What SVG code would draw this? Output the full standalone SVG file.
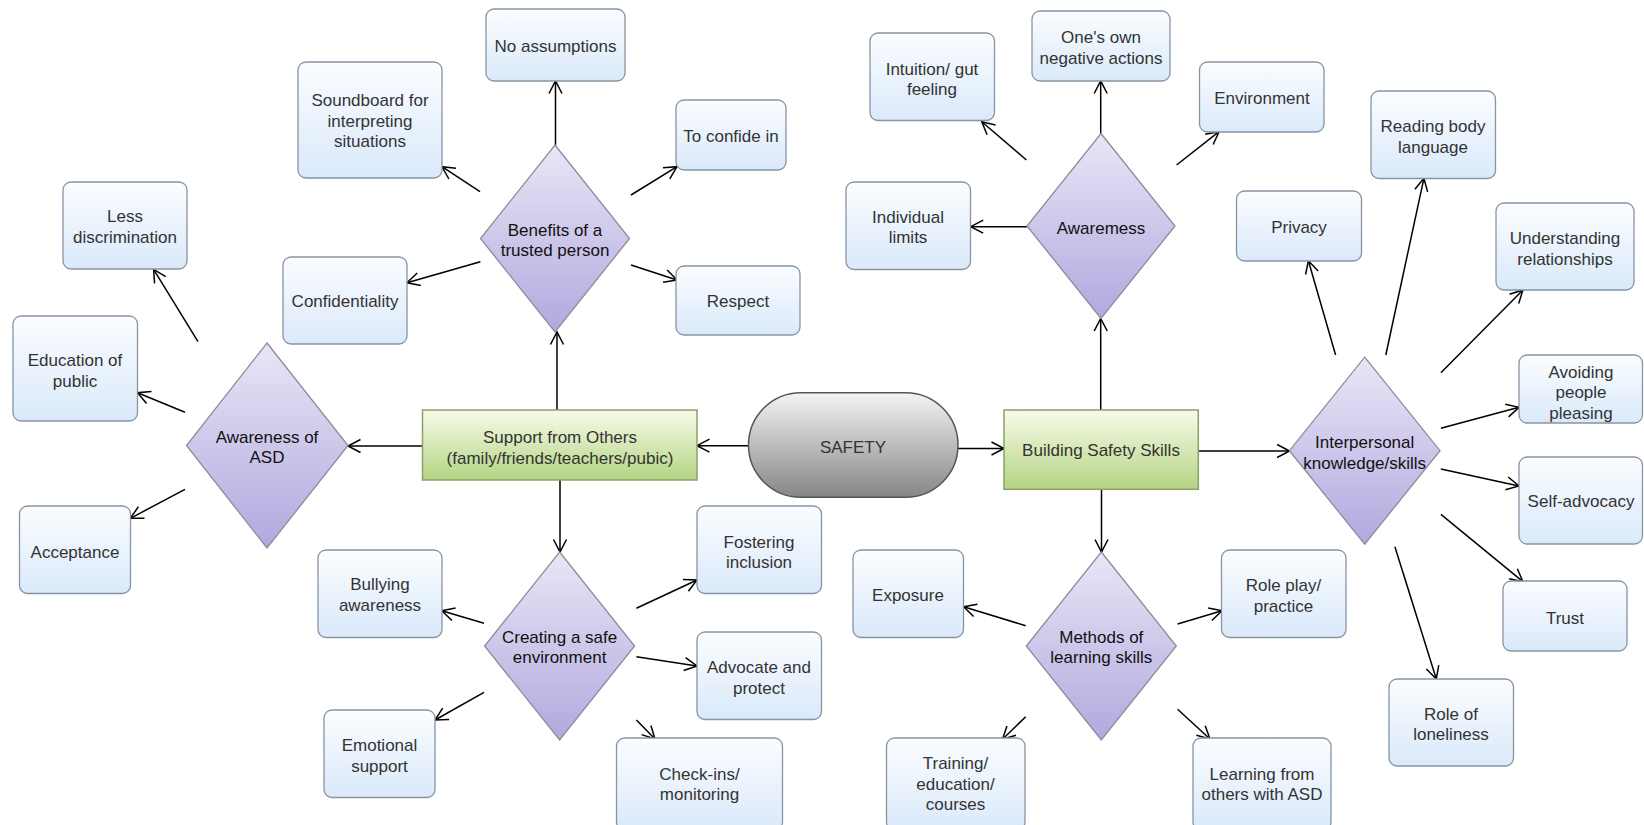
<svg xmlns="http://www.w3.org/2000/svg" width="1644" height="825" viewBox="0 0 1644 825">
<defs>
<linearGradient id="gBlue" x1="0" y1="0" x2="0" y2="1"><stop offset="0" stop-color="#fbfdff"/><stop offset="1" stop-color="#dae9fa"/></linearGradient>
<linearGradient id="gPurple" x1="0" y1="0" x2="0" y2="1"><stop offset="0" stop-color="#e9e6f6"/><stop offset="1" stop-color="#b2a8de"/></linearGradient>
<linearGradient id="gGreen" x1="0" y1="0" x2="0" y2="1"><stop offset="0" stop-color="#f8fbea"/><stop offset="1" stop-color="#b4d483"/></linearGradient>
<linearGradient id="gGray" x1="0" y1="0" x2="0" y2="1"><stop offset="0" stop-color="#f3f3f3"/><stop offset="1" stop-color="#868686"/></linearGradient>
<marker id="arr" markerUnits="userSpaceOnUse" markerWidth="16" markerHeight="16" viewBox="0 0 16 16" refX="14" refY="8" orient="auto">
<path d="M1.5,1.5 L14,8 L1.5,14.5" fill="none" stroke="#000" stroke-width="1.5"/>
</marker>
</defs>
<style>
.box{fill:url(#gBlue);stroke:#8795a3;stroke-width:1.3}
.dia{fill:url(#gPurple);stroke:#8e8b9c;stroke-width:1.3}
.grn{fill:url(#gGreen);stroke:#8ca06a;stroke-width:1.5}
.pill{fill:url(#gGray);stroke:#555;stroke-width:1.5}
text{font-family:"Liberation Sans",Arial,sans-serif;font-size:17px;text-anchor:middle}
.bt{fill:#333}
.dt{fill:#111}
.c line{stroke:#000;stroke-width:1.5;marker-end:url(#arr)}
</style>
<rect width="1644" height="825" fill="#fff"/>

<g id="connectors" class="c">
<line x1="748.5" y1="445.7" x2="697" y2="445.7"/>
<line x1="958" y1="448.5" x2="1004" y2="448.5"/>
<line x1="422.5" y1="446" x2="348" y2="446"/>
<line x1="557" y1="410" x2="557" y2="332"/>
<line x1="560" y1="480" x2="560" y2="552"/>
<line x1="555.5" y1="145" x2="555.5" y2="81"/>
<line x1="480" y1="191.7" x2="442" y2="166.7"/>
<line x1="480.4" y1="261.7" x2="407" y2="282.7"/>
<line x1="631" y1="195" x2="677" y2="166.7"/>
<line x1="631" y1="265" x2="677" y2="280"/>
<line x1="198" y1="341.7" x2="153.6" y2="269.3"/>
<line x1="185" y1="412.3" x2="137.5" y2="392.7"/>
<line x1="185" y1="489.3" x2="130.4" y2="518.3"/>
<line x1="484" y1="623.3" x2="441.8" y2="610.7"/>
<line x1="484" y1="692.3" x2="435" y2="720"/>
<line x1="636.4" y1="608.3" x2="697" y2="580"/>
<line x1="636.4" y1="656.7" x2="697" y2="666"/>
<line x1="636.4" y1="720" x2="655" y2="739"/>
<line x1="1100.7" y1="133.5" x2="1100.7" y2="81"/>
<line x1="1026.4" y1="160" x2="981.8" y2="121.7"/>
<line x1="1027" y1="226.7" x2="970.7" y2="226.7"/>
<line x1="1176.6" y1="165" x2="1219" y2="131.7"/>
<line x1="1100.7" y1="410" x2="1100.7" y2="318.5"/>
<line x1="1101.5" y1="489.3" x2="1101.5" y2="552"/>
<line x1="1198.3" y1="451" x2="1289.6" y2="451"/>
<line x1="1025.7" y1="625.7" x2="963.6" y2="606.7"/>
<line x1="1025.7" y1="716.7" x2="1002.5" y2="739.3"/>
<line x1="1177.6" y1="624" x2="1222" y2="610.7"/>
<line x1="1177.6" y1="709.3" x2="1210" y2="739"/>
<line x1="1335.6" y1="355" x2="1308.4" y2="260.7"/>
<line x1="1385.8" y1="355" x2="1423.9" y2="178.3"/>
<line x1="1440.9" y1="372.7" x2="1522.9" y2="290"/>
<line x1="1440.9" y1="428.3" x2="1519" y2="407.3"/>
<line x1="1440.9" y1="469" x2="1519" y2="486"/>
<line x1="1440.9" y1="514.3" x2="1522.9" y2="581.7"/>
<line x1="1394.9" y1="546.7" x2="1436.3" y2="679"/>
</g>

<g id="safety"><rect class="pill" x="748.5" y="392.7" width="209.5" height="104.6" rx="52.3"/><text class="bt" x="853" y="453">SAFETY</text></g>
<g id="support"><rect class="grn" x="422.5" y="410" width="274.5" height="70"/><text class="bt" x="560" y="443">Support from Others</text><text class="bt" x="560" y="463.5">(family/friends/teachers/pubic)</text></g>
<g id="building"><rect class="grn" x="1004" y="410" width="194.3" height="79.3"/><text class="bt" x="1101" y="456">Building Safety Skills</text></g>

<g id="asd"><polygon class="dia" points="267,343 348,445.5 267,548 186.5,445.5"/><text class="dt" x="267" y="442.5">Awareness of</text><text class="dt" x="267" y="463">ASD</text></g>
<g id="benefits"><polygon class="dia" points="555,145 629.5,238.5 555,332 480.5,238.5"/><text class="dt" x="555" y="235.5">Benefits of a</text><text class="dt" x="555" y="256">trusted person</text></g>
<g id="creating"><polygon class="dia" points="559.6,552 634.6,646 559.6,740 484.6,646"/><text class="dt" x="559.6" y="642.5">Creating a safe</text><text class="dt" x="559.6" y="663">environment</text></g>
<g id="awaremess"><polygon class="dia" points="1101,133.5 1175,226 1101,318.5 1027,226"/><text class="dt" x="1101" y="233.5">Awaremess</text></g>
<g id="methods"><polygon class="dia" points="1101.3,552 1176.3,646 1101.3,740 1026.3,646"/><text class="dt" x="1101.3" y="642.5">Methods of</text><text class="dt" x="1101.3" y="663">learning skills</text></g>
<g id="interpersonal"><polygon class="dia" points="1364.7,357.2 1440,450.7 1364.7,544.2 1289.4,450.7"/><text class="dt" x="1364.7" y="448">Interpersonal</text><text class="dt" x="1364.7" y="468.5">knowledge/skills</text></g>

<g id="noassumptions"><rect class="box" x="486" y="9" width="139" height="72" rx="8"/><text class="bt" x="555.5" y="52">No assumptions</text></g>
<g id="soundboard"><rect class="box" x="298" y="62" width="144" height="116" rx="8"/><text class="bt" x="370" y="106">Soundboard for</text><text class="bt" x="370" y="126.5">interpreting</text><text class="bt" x="370" y="147">situations</text></g>
<g id="lessdiscrimination"><rect class="box" x="63" y="182" width="124" height="87" rx="8"/><text class="bt" x="125" y="222">Less</text><text class="bt" x="125" y="242.5">discrimination</text></g>
<g id="confidentiality"><rect class="box" x="283" y="257" width="124" height="87" rx="8"/><text class="bt" x="345" y="307">Confidentiality</text></g>
<g id="educationpublic"><rect class="box" x="13" y="316" width="124.5" height="105" rx="8"/><text class="bt" x="75" y="366">Education of</text><text class="bt" x="75" y="386.5">public</text></g>
<g id="confidein"><rect class="box" x="676" y="100" width="110" height="70" rx="8"/><text class="bt" x="731" y="142">To confide in</text></g>
<g id="respect"><rect class="box" x="676" y="266" width="124" height="69" rx="8"/><text class="bt" x="738" y="307">Respect</text></g>
<g id="intuition"><rect class="box" x="870" y="33" width="124.5" height="87.5" rx="8"/><text class="bt" x="932" y="74.5">Intuition/ gut</text><text class="bt" x="932" y="95">feeling</text></g>
<g id="individuallimits"><rect class="box" x="846" y="182" width="124.5" height="87.5" rx="8"/><text class="bt" x="908" y="222.5">Individual</text><text class="bt" x="908" y="243">limits</text></g>
<g id="ownnegative"><rect class="box" x="1032" y="11" width="138" height="70" rx="8"/><text class="bt" x="1101" y="43">One's own</text><text class="bt" x="1101" y="63.5">negative actions</text></g>
<g id="environment"><rect class="box" x="1199.5" y="62" width="124.5" height="70" rx="8"/><text class="bt" x="1262" y="104">Environment</text></g>
<g id="readingbody"><rect class="box" x="1371" y="91" width="124.5" height="87.5" rx="8"/><text class="bt" x="1433" y="132">Reading body</text><text class="bt" x="1433" y="152.5">language</text></g>
<g id="privacy"><rect class="box" x="1236.5" y="191" width="125" height="70" rx="8"/><text class="bt" x="1299" y="233">Privacy</text></g>
<g id="understanding"><rect class="box" x="1496" y="203" width="138" height="87" rx="8"/><text class="bt" x="1565" y="244">Understanding</text><text class="bt" x="1565" y="264.5">relationships</text></g>
<g id="avoiding"><rect class="box" x="1519" y="355" width="123.5" height="68" rx="8"/><text class="bt" x="1581" y="377.5">Avoiding</text><text class="bt" x="1581" y="398">people</text><text class="bt" x="1581" y="418.5">pleasing</text></g>
<g id="acceptance"><rect class="box" x="19.5" y="506" width="111" height="87.5" rx="8"/><text class="bt" x="75" y="558">Acceptance</text></g>
<g id="bullying"><rect class="box" x="318" y="550" width="124" height="87.5" rx="8"/><text class="bt" x="380" y="590">Bullying</text><text class="bt" x="380" y="610.5">awareness</text></g>
<g id="emotional"><rect class="box" x="324" y="710" width="111" height="87.5" rx="8"/><text class="bt" x="379.5" y="751">Emotional</text><text class="bt" x="379.5" y="771.5">support</text></g>
<g id="fostering"><rect class="box" x="697" y="506" width="124.5" height="87.5" rx="8"/><text class="bt" x="759" y="547.5">Fostering</text><text class="bt" x="759" y="568">inclusion</text></g>
<g id="advocate"><rect class="box" x="697" y="632" width="124.5" height="87.5" rx="8"/><text class="bt" x="759" y="673">Advocate and</text><text class="bt" x="759" y="693.5">protect</text></g>
<g id="checkins"><rect class="box" x="616.5" y="738" width="166" height="92" rx="8"/><text class="bt" x="699.5" y="779.5">Check-ins/</text><text class="bt" x="699.5" y="800">monitoring</text></g>
<g id="exposure"><rect class="box" x="853" y="550" width="110.5" height="87.5" rx="8"/><text class="bt" x="908" y="601">Exposure</text></g>
<g id="training"><rect class="box" x="886.5" y="738" width="138.5" height="92" rx="8"/><text class="bt" x="955.5" y="769">Training/</text><text class="bt" x="955.5" y="789.5">education/</text><text class="bt" x="955.5" y="810">courses</text></g>
<g id="selfadvocacy"><rect class="box" x="1519" y="457" width="123.5" height="87" rx="8"/><text class="bt" x="1581" y="507">Self-advocacy</text></g>
<g id="trust"><rect class="box" x="1503" y="581" width="124" height="70" rx="8"/><text class="bt" x="1565" y="624">Trust</text></g>
<g id="roleplay"><rect class="box" x="1221.5" y="550" width="124.5" height="87.5" rx="8"/><text class="bt" x="1283.5" y="591">Role play/</text><text class="bt" x="1283.5" y="611.5">practice</text></g>
<g id="loneliness"><rect class="box" x="1389" y="679" width="124.5" height="87" rx="8"/><text class="bt" x="1451" y="719.5">Role of</text><text class="bt" x="1451" y="740">loneliness</text></g>
<g id="learning"><rect class="box" x="1193" y="738" width="138" height="92" rx="8"/><text class="bt" x="1262" y="779.5">Learning from</text><text class="bt" x="1262" y="800">others with ASD</text></g>
</svg>
